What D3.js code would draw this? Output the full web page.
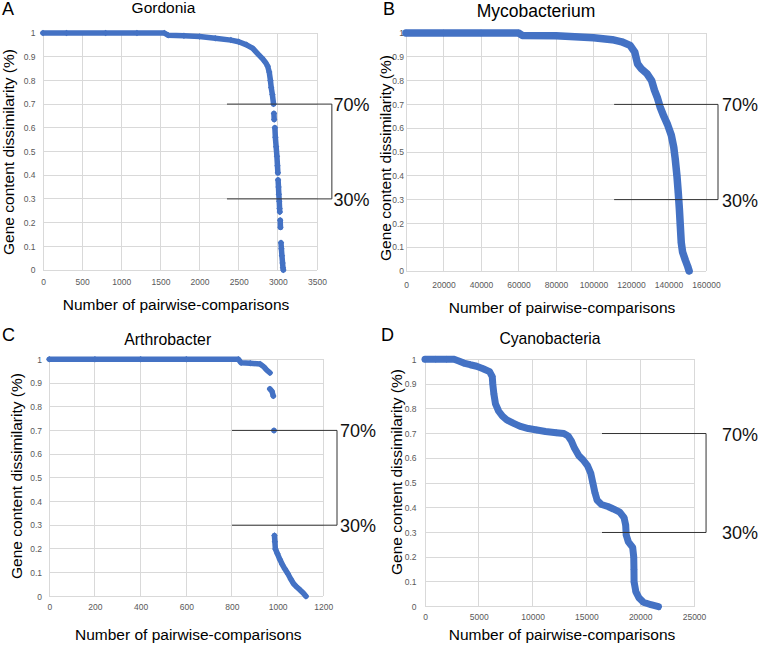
<!DOCTYPE html>
<html><head><meta charset="utf-8">
<script src="https://cdn.jsdelivr.net/npm/d3@7"></script>
<style>
body{margin:0;background:#fff}
svg{display:block}
text{font-family:"Liberation Sans",Arial,sans-serif}
</style>
</head><body>
<svg id="chart" width="760" height="645"></svg>
<script>
// ---------- data ----------
const titles = ["Gordonia", "Mycobacterium", "Arthrobacter", "Cyanobacteria"];
const letters = ["A", "B", "C", "D"];
const xTitle = "Number of pairwise-comparisons";
const yTitle = "Gene content dissimilarity (%)";
const bracketLabels = ["70%", "30%"];
const bracketLevels = [0.7, 0.3];

const yTicks = [0, 0.1, 0.2, 0.3, 0.4, 0.5, 0.6, 0.7, 0.8, 0.9, 1];
const xTicksGordonia = [0, 500, 1000, 1500, 2000, 2500, 3000, 3500];
const xTicksMyco = [0, 20000, 40000, 60000, 80000, 100000, 120000, 140000, 160000];
const xTicksArthro = [0, 200, 400, 600, 800, 1000, 1200];
const xTicksCyano = [0, 5000, 10000, 15000, 20000, 25000];

// bracket start / end in x data units
const bracketGordonia = [2350, 3690];
const bracketMyco = [111000, 166400];
const bracketArthro = [800, 1260];
const bracketCyano = [16450, 26120];

// series: [comparisons, dissimilarity]; null = visible gap between markers
const gordonia = [[0,1],[300,1],[800,1],[1200,1],[1550,1],[1600,0.99],[1800,0.988],[2000,0.985],[2200,0.978],[2400,0.97],[2500,0.963],[2600,0.95],[2680,0.935],[2750,0.91],[2800,0.893],[2840,0.877],[2870,0.86],[2890,0.835],[2905,0.8],[2915,0.77],[2930,0.74],[2945,0.7],
  null,[2950,0.66],[2953,0.635],
  null,[2962,0.6],[2968,0.56],[2978,0.52],[2988,0.48],[2995,0.44],[3000,0.41],
  null,[3003,0.38],[3008,0.35],[3012,0.32],[3018,0.29],[3022,0.26],[3025,0.245],
  null,[3030,0.21],[3033,0.18],
  null,[3040,0.115],[3045,0.09],[3052,0.06],[3060,0.03],[3065,0.01],[3070,0]];

const mycobacterium = [[0,1],[20000,1],[40000,1],[60000,1],[62000,0.99],[80000,0.988],[100000,0.98],[110000,0.972],[115000,0.963],[119500,0.948],[122000,0.92],[123500,0.87],[125500,0.85],[128400,0.83],[131000,0.8],[132500,0.76],[134000,0.73],[135500,0.69],[137500,0.65],[139500,0.615],[141500,0.57],[142800,0.52],[143600,0.47],[144500,0.4],[145200,0.33],[145800,0.26],[146300,0.19],[146800,0.12],[147500,0.08],[149000,0.045],[150200,0.02],[151000,0]];

const arthrobacter = [[0,1],[200,1],[400,1],[600,1],[828,1],[840,0.985],[880,0.983],[923,0.98],[940,0.968],[952,0.955],[966,0.943],
  null,[966,0.875],[975,0.865],[981,0.845],
  null,[984,0.7],
  null,[986,0.257],[988,0.23],[990,0.2],[999,0.18],[1010,0.155],[1020,0.135],[1032,0.115],[1045,0.095],[1058,0.072],[1070,0.053],[1085,0.038],[1098,0.027],[1112,0.014],[1124,0]];

const cyanobacteria = [[0,1],[1000,1],[2000,1],[2700,1],[3200,0.992],[3600,0.985],[4200,0.978],[4800,0.972],[5400,0.962],[6000,0.95],[6250,0.93],[6300,0.9],[6400,0.86],[6550,0.82],[6850,0.79],[7200,0.77],[7600,0.755],[8200,0.742],[8800,0.73],[9600,0.72],[10400,0.714],[11200,0.708],[12200,0.703],[12900,0.7],[13300,0.69],[13600,0.67],[13900,0.64],[14300,0.61],[14700,0.593],[15100,0.57],[15400,0.54],[15600,0.5],[15800,0.46],[16000,0.43],[16400,0.413],[17000,0.405],[17500,0.395],[18100,0.382],[18500,0.36],[18650,0.33],[18700,0.29],[18900,0.262],[19300,0.24],[19400,0.2],[19420,0.15],[19430,0.1],[19600,0.06],[19900,0.035],[20300,0.018],[21000,0.008],[21700,0]];

// ---------- layout ----------
const BLUE = "#4472C4";
const panels = [
  {series: gordonia, xTicks: xTicksGordonia, bracket: bracketGordonia,
   xr: [43, 317], yr: [270, 33], ytx: 35.5, xty: 284.5,
   title: [163.5, 12.5, 15.5], letter: [2, 15], xl: [176, 310], yl: [14, 152],
   btx: 333.5, stroke: 5.5, mark: 6.5},
  {series: mycobacterium, xTicks: xTicksMyco, bracket: bracketMyco,
   xr: [406, 706], yr: [271, 33], ytx: 404, xty: 288,
   title: [536, 16.5, 17.5], letter: [383, 15], xl: [562, 313], yl: [391, 158],
   btx: 722, stroke: 7.5, mark: 7},
  {series: arthrobacter, xTicks: xTicksArthro, bracket: bracketArthro,
   xr: [49.3, 323.3], yr: [596.3, 359.3], ytx: 42, xty: 609.5,
   title: [167.7, 345, 15.8], letter: [2, 341], xl: [188.3, 640], yl: [22, 476],
   btx: 340, stroke: 5.5, mark: 6.5},
  {series: cyanobacteria, xTicks: xTicksCyano, bracket: bracketCyano,
   xr: [425, 694], yr: [606.7, 359.3], ytx: 416.5, xty: 619.5,
   title: [550, 344, 15.7], letter: [381, 341], xl: [562, 640], yl: [402, 472],
   btx: 722, stroke: 7, mark: 7}
];

const svg = d3.select("#chart");
const fmtY = d => d === 0 ? "0" : d === 1 ? "1" : d3.format(".1f")(d);

panels.forEach((p, i) => {
  const xTicks = p.xTicks;
  const x = d3.scaleLinear().domain([xTicks[0], xTicks[xTicks.length - 1]]).range(p.xr);
  const y = d3.scaleLinear().domain([0, 1]).range(p.yr);
  const g = svg.append("g");

  // gridlines
  const grid = g.append("g").attr("stroke", "#d9d9d9").attr("stroke-width", 1).attr("shape-rendering", "crispEdges");
  grid.selectAll("line.v").data(xTicks).join("line").attr("class", "v")
    .attr("x1", d => x(d)).attr("x2", d => x(d)).attr("y1", y(0)).attr("y2", y(1));
  grid.selectAll("line.h").data(yTicks).join("line").attr("class", "h")
    .attr("x1", x.range()[0]).attr("x2", x.range()[1]).attr("y1", d => y(d)).attr("y2", d => y(d));

  // axes (labels only)
  const xAxis = d3.axisBottom(x).tickValues(xTicks).tickSize(0).tickFormat(d3.format("d"));
  const ax = g.append("g").attr("transform", `translate(0,${p.xty - 8})`).call(xAxis);
  ax.select(".domain").remove();
  ax.selectAll("text").attr("font-size", 8.5).attr("fill", "#595959").attr("dy", "0").attr("y", 8)
    .style("font-family", '"Liberation Sans",Arial,sans-serif');

  const yAxis = d3.axisLeft(y).tickValues(yTicks).tickSize(0).tickFormat(fmtY);
  const ay = g.append("g").attr("transform", `translate(${p.ytx},0)`).call(yAxis);
  ay.select(".domain").remove();
  ay.selectAll("text").attr("font-size", 8.5).attr("fill", "#595959").attr("x", 0).attr("dy", "0.32em")
    .style("font-family", '"Liberation Sans",Arial,sans-serif');

  // series: thick line through consecutive readings + diamond markers
  const line = d3.line().defined(d => d !== null).x(d => x(d[0])).y(d => y(d[1]));
  g.append("path").datum(p.series).attr("d", line)
    .attr("fill", "none").attr("stroke", BLUE).attr("stroke-width", p.stroke)
    .attr("stroke-linejoin", "round").attr("stroke-linecap", "round");
  const side = p.mark / Math.SQRT2;
  const sym = d3.symbol().type(d3.symbolSquare).size(side * side);
  g.append("g").selectAll("path").data(p.series.filter(d => d !== null)).join("path")
    .attr("d", sym)
    .attr("transform", d => `translate(${x(d[0])},${y(d[1])}) rotate(45)`)
    .attr("fill", BLUE);

  // bracket annotation
  const bx0 = x(p.bracket[0]), bx1 = x(p.bracket[1]);
  const br = g.append("g").attr("stroke", "#333").attr("stroke-width", 1).attr("fill", "none");
  bracketLevels.forEach(v => {
    br.append("line").attr("x1", bx0).attr("x2", bx1).attr("y1", y(v)).attr("y2", y(v));
  });
  br.append("line").attr("x1", bx1).attr("x2", bx1).attr("y1", y(bracketLevels[0])).attr("y2", y(bracketLevels[1]));
  bracketLevels.forEach((v, k) => {
    g.append("text").attr("x", p.btx).attr("y", y(v) + 7).attr("font-size", 18).attr("fill", "#111")
      .text(bracketLabels[k]);
  });

  // titles and labels
  g.append("text").attr("x", p.title[0]).attr("y", p.title[1]).attr("font-size", p.title[2])
    .attr("text-anchor", "middle").attr("fill", "#000").text(titles[i]);
  g.append("text").attr("x", p.letter[0]).attr("y", p.letter[1]).attr("font-size", 18)
    .attr("fill", "#000").text(letters[i]);
  g.append("text").attr("x", p.xl[0]).attr("y", p.xl[1]).attr("font-size", 15.5)
    .attr("text-anchor", "middle").attr("fill", "#000").text(xTitle);
  g.append("text").attr("transform", `translate(${p.yl[0]},${p.yl[1]}) rotate(-90)`)
    .attr("font-size", 15.5).attr("text-anchor", "middle").attr("fill", "#000").text(yTitle);
});
</script>
</body></html>
